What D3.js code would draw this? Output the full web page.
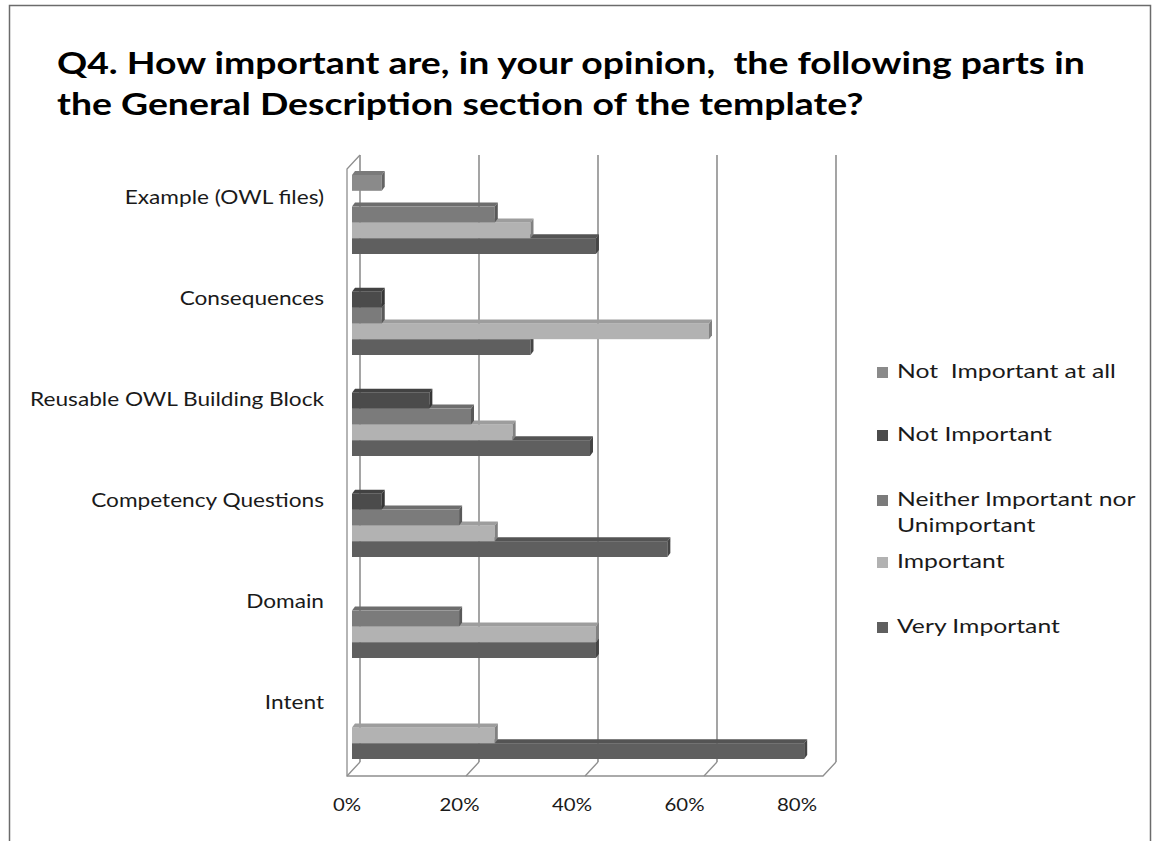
<!DOCTYPE html>
<html><head><meta charset="utf-8">
<script src="https://cdn.jsdelivr.net/npm/d3@7"></script>
<style>
html,body{margin:0;padding:0;background:#fff;}
svg{display:block;}
</style></head>
<body>
<svg id="chart" width="1157" height="841"></svg>
<script>
// ---- data ----
const titleLines = ["Q4. How important are, in your opinion,  the following parts in",
                    "the General Description section of the template?"];
const categories = ["Example (OWL files)", "Consequences", "Reusable OWL Building Block",
                    "Competency Questions", "Domain", "Intent"];
const seriesNames = ["Not  Important at all", "Not Important",
                     "Neither Important nor Unimportant", "Important", "Very Important"];
const legendLines = [["Not  Important at all"], ["Not Important"],
                     ["Neither Important nor", "Unimportant"], ["Important"], ["Very Important"]];
const notImportantAtAll = [0.05, 0, 0, 0, 0, 0];
const notImportant      = [0, 0.05, 0.13, 0.05, 0, 0];
const neither           = [0.24, 0.05, 0.20, 0.18, 0.18, 0];
const important         = [0.30, 0.60, 0.27, 0.24, 0.41, 0.24];
const veryImportant     = [0.41, 0.30, 0.40, 0.53, 0.41, 0.76];
const tickValues = [0, 0.2, 0.4, 0.6, 0.8];
const tickLabels = ["0%", "20%", "40%", "60%", "80%"];

const seriesValues = [notImportantAtAll, notImportant, neither, important, veryImportant];
const colors = ["#8a8a8a", "#4b4b4b", "#7b7b7b", "#b2b2b2", "#5f5f5f"];

const svg = d3.select("#chart");
const FONT = "Lato, 'Open Sans', sans-serif";

function measure(text, weight, size) {
  const t = svg.append("text").attr("font-family", FONT).attr("font-weight", weight)
    .attr("font-size", size).style("white-space", "pre").text(text);
  const w = t.node().getComputedTextLength();
  t.remove();
  return w;
}
// text of given size, horizontally scaled by sx
function narrowText(parent, x, yPos, text, size, weight, sx, anchor) {
  return parent.append("text")
    .attr("transform", `translate(${x},${yPos}) scale(${sx},1)`)
    .attr("text-anchor", anchor || "start")
    .attr("font-family", FONT).attr("font-weight", weight).attr("font-size", size)
    .style("white-space", "pre").attr("fill", "#1a1a1a").text(text);
}

// outer border
svg.append("rect").attr("x", 9.5).attr("y", 5.5).attr("width", 1141).attr("height", 845)
  .attr("fill", "none").attr("stroke", "#6b6b6b").attr("stroke-width", 1.5);

// title
const titleSizePx = 31;
const titleSx = 1028 / measure(titleLines[0], "bold", titleSizePx);
titleLines.forEach((t, i) => narrowText(svg, 57, 74 + i * 41, t, titleSizePx, "bold", titleSx)
  .attr("fill", "#000"));

// scales
const xBack = d3.scaleLinear().domain([0, 0.8]).range([360, 836]);
const xBar = d3.scaleLinear().domain([0, 0.8]).range([352, 828]);
const xLabel = d3.scaleLinear().domain([0, 0.8]).range([347, 797]);
const y = d3.scaleBand().domain(categories).range([164, 770])
  .paddingInner(0.218).paddingOuter(0.109);
const ys = d3.scaleBand().domain(seriesNames).range([0, y.bandwidth()]);

const wallTop = 155, wallBottom = 762, ddx = -13, ddy = 14;
const wallColor = "#8e8e8e";

// back-wall gridlines
svg.append("g").selectAll("line").data(tickValues).join("line")
  .attr("x1", d => xBack(d)).attr("x2", d => xBack(d))
  .attr("y1", wallTop).attr("y2", wallBottom)
  .attr("stroke", wallColor).attr("stroke-width", 1.6);

// side wall and floor
const walls = svg.append("g").attr("fill", "none").attr("stroke", wallColor).attr("stroke-width", 1.3);
const x0 = xBack(0), x8 = xBack(0.8);
walls.append("path").attr("d",
  `M${x0},${wallTop} L${x0 + ddx},${wallTop + ddy} L${x0 + ddx},${wallBottom + ddy} L${x8 + ddx},${wallBottom + ddy} L${x8},${wallBottom}`);
walls.selectAll("line.floor").data(tickValues.slice(0, -1)).join("line")
  .attr("class", "floor")
  .attr("x1", d => xBack(d)).attr("y1", wallBottom)
  .attr("x2", d => xBack(d) + ddx).attr("y2", wallBottom + ddy);

// bars (3D)
const bdx = 3, bdy = 4;
const bars = [];
categories.forEach((c, ci) => {
  for (let si = seriesNames.length - 1; si >= 0; si--) {
    const v = seriesValues[si][ci];
    if (v > 0) bars.push({c, s: seriesNames[si], si, v});
  }
});
const bg = svg.append("g");
bars.forEach(b => {
  const xl = xBar(0), xr = xBar(b.v);
  const yt = y(b.c) + ys(b.s), yb = yt + ys.bandwidth();
  const col = d3.color(colors[b.si]);
  const g = bg.append("g");
  g.append("rect").attr("x", xl).attr("y", yt).attr("width", xr - xl).attr("height", yb - yt)
    .attr("fill", col.formatHex());
  g.append("path").attr("d", `M${xl},${yt} L${xl + bdx},${yt - bdy} L${xr + bdx},${yt - bdy} L${xr},${yt} Z`)
    .attr("fill", col.darker(0.35).formatHex());
  g.append("path").attr("d", `M${xr},${yt} L${xr + bdx},${yt - bdy} L${xr + bdx},${yb - bdy} L${xr},${yb} Z`)
    .attr("fill", col.darker(0.9).formatHex());
});

// category labels
const catSizePx = 19;
const catSx = 233 / measure("Competency Questions", "normal", catSizePx);
const cg = svg.append("g");
categories.forEach(c => narrowText(cg, 324, y(c) + 29, c, catSizePx, "normal", catSx, "end"));

// x tick labels
const tickSizePx = 17;
const tickSx = 40 / measure("80%", "normal", tickSizePx);
const tg = svg.append("g");
tickValues.forEach((d, i) => narrowText(tg, xLabel(d), 811, tickLabels[i], tickSizePx, "normal", tickSx, "middle"));

// legend
const legY = [372, 435, 500, 562, 627];
const legSizePx = 19;
const legSx = 219 / measure("Not  Important at all", "normal", legSizePx);
const lg = svg.append("g");
legendLines.forEach((lines, i) => {
  lg.append("rect").attr("x", 877).attr("y", legY[i] - 5).attr("width", 11).attr("height", 11)
    .attr("fill", colors[i]);
  lines.forEach((t, j) => narrowText(lg, 897, legY[i] + 6 + j * 26, t, legSizePx, "normal", legSx));
});
</script>
</body></html>
